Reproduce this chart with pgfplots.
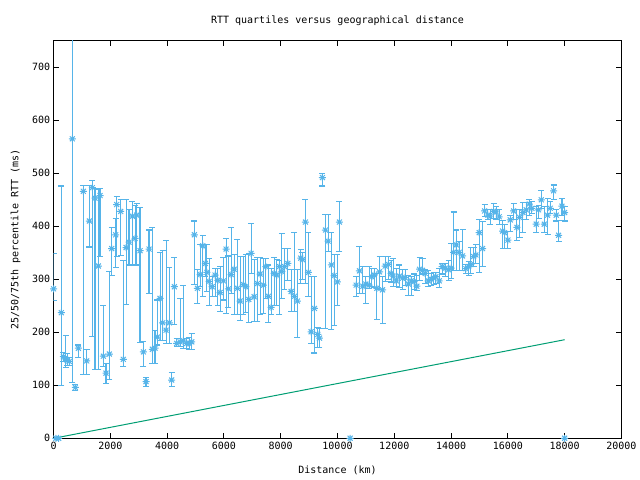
\documentclass[border=0pt]{standalone}
\usepackage{pgfplots}
\usepackage{pgfplotstable}
\pgfplotsset{compat=1.18}
\usepackage{fontspec}
\setmainfont{DejaVu Sans Mono}
\definecolor{gpblue}{RGB}{86,180,233}
\definecolor{gpgreen}{RGB}{0,158,115}
\pgfdeclareplotmark{gpstar}{%
  \pgfpathmoveto{\pgfqpoint{-\pgfplotmarksize}{0pt}}\pgfpathlineto{\pgfqpoint{\pgfplotmarksize}{0pt}}%
  \pgfpathmoveto{\pgfqpoint{0pt}{-\pgfplotmarksize}}\pgfpathlineto{\pgfqpoint{0pt}{\pgfplotmarksize}}%
  \pgfpathmoveto{\pgfpointpolar{45}{\pgfplotmarksize}}\pgfpathlineto{\pgfpointpolar{225}{\pgfplotmarksize}}%
  \pgfpathmoveto{\pgfpointpolar{135}{\pgfplotmarksize}}\pgfpathlineto{\pgfpointpolar{315}{\pgfplotmarksize}}%
  \pgfusepathqstroke}
\pgfplotstableread{
x y lo hi
0 282 260 349
80 0 0 0
180 0 0 0
272 237 100 476
343 154 145 162
420 150 134 194
480 147 138 160
554 145 138 152
660 565 106 900
766 96 90 102
872 170 152 176
1048 466 121 477
1165 146 121 168
1260 410 361 477
1365 473 192 486
1460 453 129 472
1577 325 130 470
1635 458 343 471
1752 155 136 251
1847 123 104 141
1963 159 111 314
2047 358 308 398
2188 384 323 415
2223 441 343 457
2364 428 345 451
2456 149 136 335
2552 360 253 451
2657 370 327 431
2775 419 327 447
2869 377 327 439
2928 421 327 443
3045 354 180 435
3163 163 136 182
3256 107 98 115
3362 357 274 393
3479 168 141 398
3573 170 141 204
3655 191 176 261
3750 264 185 350
3844 218 185 354
3962 204 179 373
4079 218 179 323
4160 110 98 124
4255 286 214 341
4337 179 173 188
4455 182 173 264
4572 184 170 289
4690 179 170 188
4772 179 168 190
4866 182 168 197
4960 384 291 410
5066 283 255 318
5160 309 286 365
5254 363 267 383
5347 330 305 365
5400 313 277 365
5477 296 251 340
5583 286 267 305
5688 308 267 321
5784 298 250 320
5865 275 239 324
5981 297 261 341
6076 357 236 377
6158 282 247 344
6252 309 274 398
6358 319 233 346
6475 283 233 375
6569 259 223 343
6686 290 233 343
6770 286 237 346
6875 262 219 348
6957 349 311 406
7062 267 220 338
7180 292 220 341
7274 310 234 341
7391 289 236 340
7475 324 264 340
7568 268 219 327
7662 247 233 321
7767 311 250 341
7862 308 250 338
7955 324 234 336
8038 315 264 386
8132 324 280 358
8250 330 297 358
8367 277 239 318
8484 268 239 388
8590 259 191 318
8707 340 292 356
8767 337 300 350
8870 408 292 450
8976 313 268 388
9071 201 179 305
9188 245 161 305
9306 196 172 209
9365 189 172 207
9470 492 476 499
9576 393 207 423
9670 372 353 423
9787 327 206 388
9882 307 212 346
9998 295 251 346
10069 408 352 446
10445 0 0 0
10657 289 267 305
10774 316 274 362
10893 287 274 324
10998 291 254 305
11115 289 283 324
11210 305 286 321
11290 308 284 321
11386 283 225 311
11480 314 280 343
11586 280 217 305
11680 325 296 343
11796 328 299 343
11890 311 295 335
11960 306 287 340
12067 297 286 321
12183 306 284 327
12290 302 281 318
12383 303 288 318
12500 291 269 308
12594 297 269 305
12700 296 280 310
12795 287 279 308
12889 319 298 341
12994 317 310 340
13090 311 292 318
13195 297 287 316
13300 300 288 311
13385 303 290 312
13466 305 292 312
13583 297 284 321
13689 324 310 330
13794 321 305 330
13911 318 298 336
14006 321 301 367
14087 351 316 427
14181 365 316 393
14287 351 316 371
14404 344 316 394
14523 320 311 328
14620 324 308 333
14699 328 311 360
14792 343 325 360
14875 346 330 365
14992 388 313 413
15109 358 325 409
15180 429 418 441
15298 421 412 432
15380 419 404 431
15497 428 415 443
15591 427 412 437
15697 418 403 432
15814 391 358 411
15886 388 358 403
16003 374 358 390
16085 412 390 421
16202 429 413 443
16320 398 373 432
16413 417 379 432
16532 426 388 445
16649 431 413 445
16754 442 421 451
16849 434 424 446
17000 404 388 437
17085 431 415 440
17177 450 434 468
17283 404 388 437
17400 421 385 453
17494 434 424 446
17611 467 450 478
17706 421 410 431
17788 383 372 411
17906 438 420 453
17998 426 410 437
18000 0 0 0
}\rtt
\begin{document}
\fontsize{10bp}{12bp}\selectfont
\begin{tikzpicture}
\begin{axis}[
  scale only axis,
  width=567.8bp, height=397.5bp,
  xmin=0, xmax=20000, ymin=0, ymax=750,
  xtick={0,2000,...,20000},
  ytick={0,100,...,700},
  scaled x ticks=false,
  /pgf/number format/1000 sep={},
  /pgf/number format/assume math mode=true,
  tick align=inside,
  major tick length=5bp,
  axis line style={line width=0.9bp},
  tick style={line width=0.9bp, black},
  ticklabel style={font=\fontsize{10bp}{12bp}\selectfont},
  clip=true,
]
\addplot[gpgreen, line width=1bp] coordinates {(0,0) (18000,186)};
\addplot[only marks, mark=gpstar, mark size=3.5bp, gpblue, mark options={line width=1bp},
  error bars/.cd, y dir=both, y explicit,
  error bar style={line width=1.1bp, gpblue},
  error mark=|,
  error mark options={mark size=3bp, line width=1.1bp, gpblue}]
  table[x=x, y=y, y error plus expr=\thisrow{hi}-\thisrow{y}, y error minus expr=\thisrow{y}-\thisrow{lo}] {\rtt};
\end{axis}
\node at ([yshift=20bp]current axis.north) {RTT quartiles versus geographical distance};
\node at ([yshift=-32bp]current axis.south) {Distance (km)};
\node[rotate=90] at ([xshift=-38bp]current axis.west) {25/50/75th percentile RTT (ms)};
\path ([shift={(-53.6bp,-41.7bp)}]current axis.south west) rectangle ([shift={(18.6bp,40.8bp)}]current axis.north east);
\end{tikzpicture}
\end{document}
